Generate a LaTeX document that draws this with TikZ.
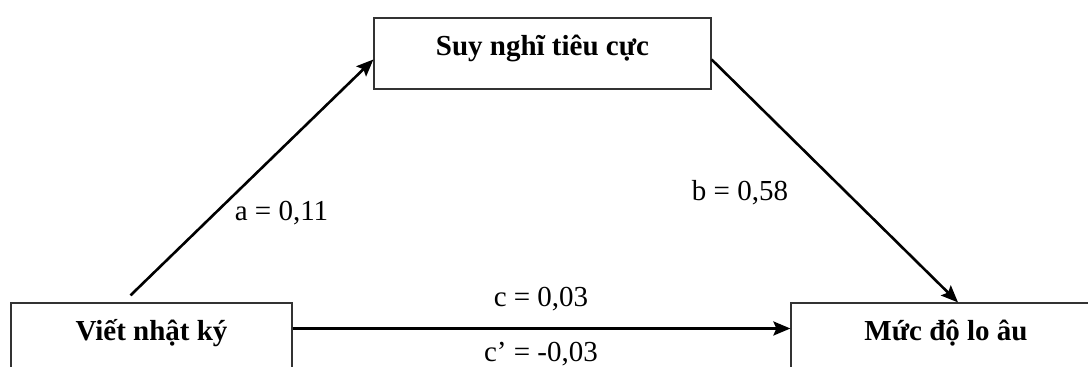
\documentclass[tikz,border=0pt]{standalone}
\usepackage{fontspec}
\setmainfont{Liberation Serif}
\usetikzlibrary{arrows.meta}

\tikzstyle{MED_style}=[
	->, x=0.5pt, y=-0.5pt,
	>={Stealth[length=8.5pt,width=7pt,inset=1.5pt]},
	font=\fontsize{14.5}{17}\selectfont,
	box/.style={rectangle,draw=black!80,line width=0.6pt,inner sep=0pt,text height=19pt,text depth=16.5pt,font=\fontsize{14.5}{17}\selectfont\bfseries},
	coef/.style={rectangle,draw=none,inner sep=0pt},
	thick_edge/.style={line width=1.3pt}
]

\begin{document}
\begin{tikzpicture}[MED_style]
		
		\clip (0,0) rectangle (1088,367);
		
		\node[box,minimum width=337*0.5pt]    (suy) at (542.5,53.5)   {Suy nghĩ tiêu cực};
		\node[box,minimum width=281*0.5pt]    (viet) at (151.5,338.5)  {Viết nhật ký};
		\node[box,minimum width=310*0.5pt]    (muc) at (946,338.5)    {Mức độ lo âu};
		
		\node[coef]    (la) at (281.5,213)   {a = 0,11};
		\node[coef]    (lb) at (740,193)     {b = 0,58};
		\node[coef]    (lc) at (541,299)     {c = 0,03};
		\node[coef]    (lcp) at (541,354)    {c’ = -0,03};
		
		
		\path[->] ([xshift=-10.5pt,yshift=3.5pt]viet.north) edge [thick_edge]  ([yshift=-3pt]suy.west)
		([yshift=-3pt]suy.east) edge [thick_edge]  ([xshift=6pt]muc.north)
		([yshift=5pt]viet.east) edge [thick_edge]  ([yshift=5pt]muc.west);
		
\end{tikzpicture}
\end{document}
